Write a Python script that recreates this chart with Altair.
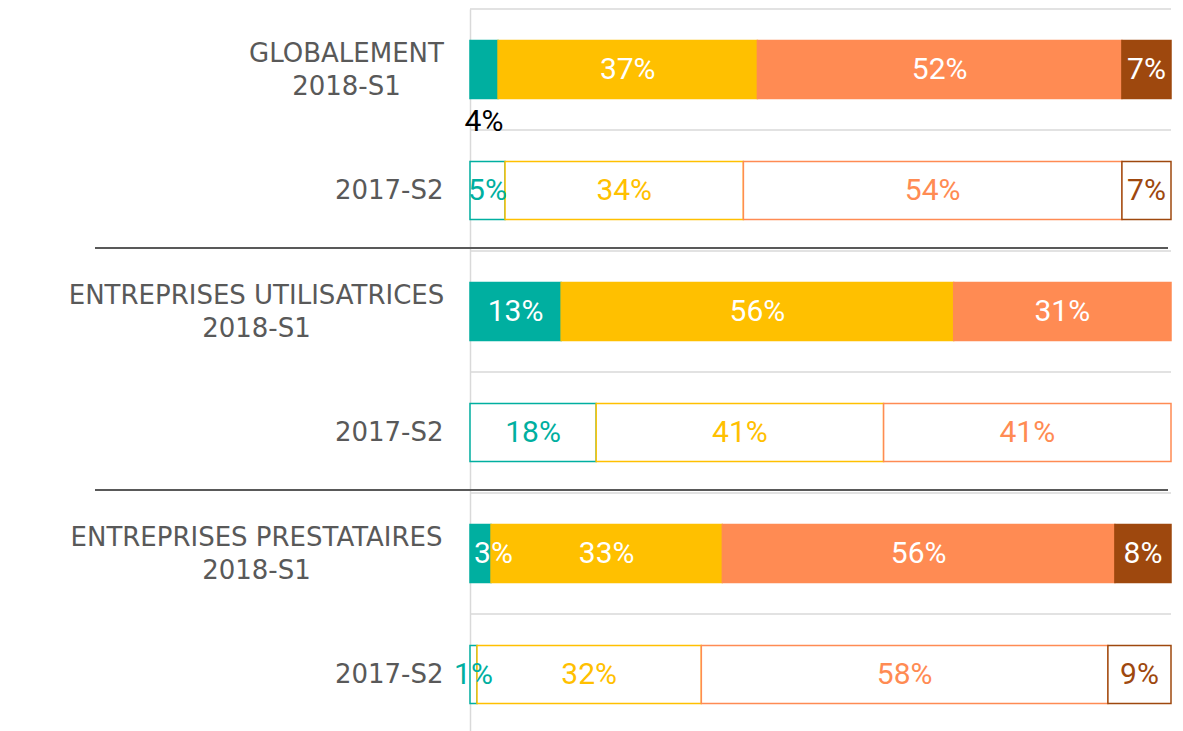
import altair as alt
import pandas as pd

groups = ["GLOBALEMENT", "ENTREPRISES UTILISATRICES", "ENTREPRISES PRESTATAIRES"]
periods = ["2018-S1", "2017-S2"]
categories = ["Catégorie 1", "Catégorie 2", "Catégorie 3", "Catégorie 4"]
colors = ["#00AFA0", "#FFC000", "#FF8B53", "#9E480E"]

# one value per row: G 2018, G 2017, U 2018, U 2017, P 2018, P 2017
cat1_values = [4, 5, 13, 18, 3, 1]
cat2_values = [37, 34, 56, 41, 33, 32]
cat3_values = [52, 54, 31, 41, 56, 58]
cat4_values = [7, 7, 0, 0, 8, 9]

rows = [f"{g}|{p}" for g in groups for p in periods]
series = [cat1_values, cat2_values, cat3_values, cat4_values]

records = []
for i, row in enumerate(rows):
    start = 0
    for c, vals in zip(categories, series):
        v = vals[i]
        records.append({
            "row": row,
            "period": row.split("|")[1],
            "cat": c,
            "value": v,
            "start": start,
            "end": start + v,
            "mid": start + v / 2,
            "label": f"{v}%",
        })
        start += v
df = pd.DataFrame(records)
df = df[df["value"] > 0]

grid_df = pd.DataFrame({"row": rows})
sep_df = pd.DataFrame({"row": [rows[2], rows[4]]})

cscale = alt.Scale(domain=categories, range=colors)
xscale = alt.Scale(domain=[0, 100], nice=False, zero=True)
yscale = alt.Scale(domain=rows, paddingInner=0, paddingOuter=0)

filled_test = "datum.period == '2018-S1'"
outside_test = f"datum.row == '{rows[0]}' && datum.cat == '{categories[0]}'"
narrow_test = "datum.period == '2018-S1' && datum.value <= 3"

yaxis = alt.Axis(
    title=None,
    ticks=False,
    grid=False,
    domainColor="#D9D9D9",
    domainWidth=1.5,
    labelFont="DejaVu Sans",
    labelFontSize=26,
    labelColor="#595959",
    labelLineHeight=33,
    labelLimit=0,
    labelBaseline="middle",
    labelExpr="indexof(datum.value, '2017') >= 0 ? [split(datum.value, '|')[1]] : split(datum.value, '|')",
    labelAlign={"condition": {"test": "indexof(datum.value, '2018') >= 0", "value": "center"}, "value": "right"},
    labelOffset={"condition": {"test": "indexof(datum.value, '2018') >= 0", "value": -16}, "value": 0},
    labelPadding={
        "condition": [
            {"test": f"datum.value == '{rows[0]}'", "value": 124},
            {"test": "indexof(datum.value, '2018') >= 0", "value": 214},
        ],
        "value": 27,
    },
)

grid = alt.Chart(grid_df).mark_rule(color="#D9D9D9", strokeWidth=1.5).encode(
    y=alt.Y("row:N", sort=rows, scale=yscale, axis=yaxis, bandPosition=0),
    x=alt.datum(0, scale=xscale, axis=None),
    x2=alt.datum(100),
)

base = alt.Chart(df)

bars = base.mark_bar(height={"band": 0.48}, strokeWidth=1.5).encode(
    x=alt.X("start:Q", scale=xscale, axis=None),
    x2="end:Q",
    y=alt.Y("row:N", sort=rows),
    stroke=alt.Stroke("cat:N", scale=cscale, legend=None),
    fill=alt.condition(filled_test, alt.Fill("cat:N", scale=cscale, legend=None), alt.value("white")),
)

text_font = "Roboto"

labels = base.transform_filter(f"!({outside_test}) && !({narrow_test})").mark_text(
    font=text_font, fontSize=30, align="center", baseline="middle"
).encode(
    x="mid:Q",
    y=alt.Y("row:N", sort=rows),
    text="label:N",
    color=alt.condition(filled_test, alt.value("white"), alt.Color("cat:N", scale=cscale, legend=None)),
)

narrow = base.transform_filter(f"!({outside_test}) && ({narrow_test})").mark_text(
    font=text_font, fontSize=30, align="center", baseline="middle", dx=13, color="white"
).encode(
    x="mid:Q",
    y=alt.Y("row:N", sort=rows),
    text="label:N",
)

outside = base.transform_filter(outside_test).mark_text(
    font=text_font, fontSize=30, align="center", baseline="middle", dy=52, color="black"
).encode(
    x="mid:Q",
    y=alt.Y("row:N", sort=rows),
    text="label:N",
)

seps = alt.Chart(sep_df).mark_rule(color="#595959", strokeWidth=2, yOffset=-3).encode(
    y=alt.Y("row:N", sort=rows, bandPosition=0),
    x=alt.value(-375),
    x2=alt.value(698),
)

chart = alt.layer(grid, bars, labels, narrow, outside, seps).properties(
    width=701,
    height=726,
    padding={"left": 462, "top": 1, "right": 4, "bottom": 0},
    autosize=alt.AutoSizeParams(type="none"),
).configure_view(strokeWidth=0)

chart.save("out.html", embed_options={"renderer": "svg", "actions": False})
